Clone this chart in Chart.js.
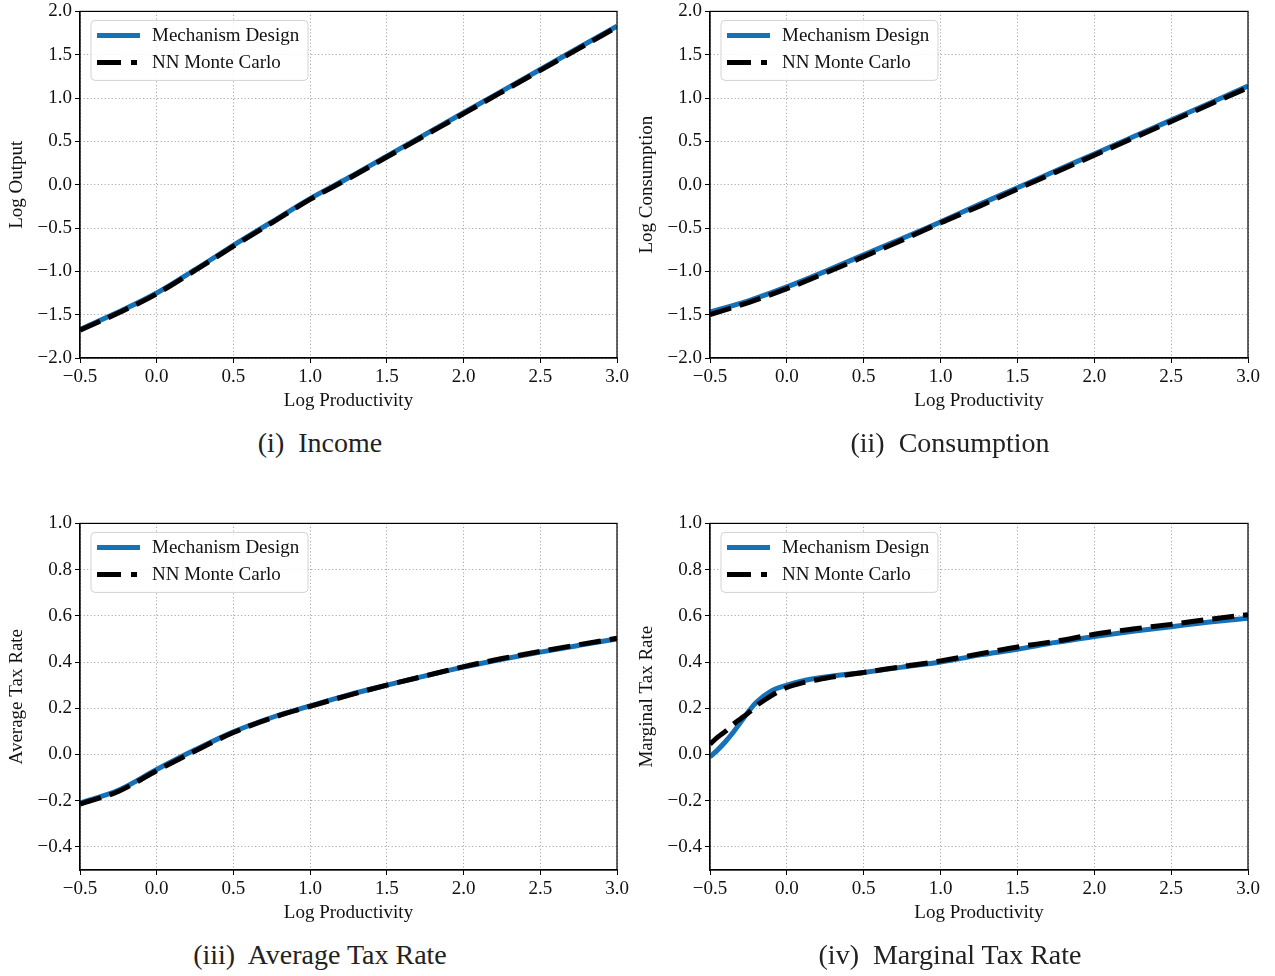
<!DOCTYPE html>
<html>
<head>
<meta charset="utf-8">
<script src="https://cdn.jsdelivr.net/npm/chart.js@4.4.1/dist/chart.umd.min.js"></script>
<style>
  body { margin: 0; background: #fff; }
  #wrap { position: relative; width: 1275px; height: 976px; overflow: hidden; }
  canvas { position: absolute; }
  .cap { position: absolute; width: 600px; text-align: center; font-family: "Liberation Serif", serif; font-size: 28px; color: #222; }
</style>
</head>
<body>
<div id="wrap">
  <canvas id="c_income" width="640" height="423" style="left:0;top:-3px"></canvas>
  <canvas id="c_cons" width="645" height="423" style="left:630px;top:-3px"></canvas>
  <canvas id="c_atr" width="640" height="423" style="left:0;top:509px"></canvas>
  <canvas id="c_mtr" width="645" height="423" style="left:630px;top:509px"></canvas>
  <div class="cap" style="left:20px;top:427px">(i)&nbsp; Income</div>
  <div class="cap" style="left:650px;top:427px">(ii)&nbsp; Consumption</div>
  <div class="cap" style="left:20px;top:939px">(iii)&nbsp; Average Tax Rate</div>
  <div class="cap" style="left:650px;top:939px">(iv)&nbsp; Marginal Tax Rate</div>
</div>
<script>
// log productivity grid
const xGrid = [-0.5, -0.25, 0.0, 0.25, 0.5, 0.75, 1.0, 1.25, 1.5, 1.75, 2.0, 2.25, 2.5, 2.75, 3.0];
const xGridMtr = [-0.5, -0.45, -0.4, -0.35, -0.3, -0.25, -0.2, -0.1, 0.0, 0.1, 0.25, 0.5, 0.75, 1.0, 1.25, 1.5, 1.75, 2.0, 2.25, 2.5, 2.75, 3.0];

const outputMD = [-1.67, -1.47, -1.25, -0.98, -0.70, -0.43, -0.16, 0.08, 0.33, 0.58, 0.83, 1.08, 1.33, 1.58, 1.83];
const outputNN = [-1.68, -1.48, -1.26, -0.99, -0.71, -0.44, -0.17, 0.07, 0.32, 0.57, 0.82, 1.07, 1.32, 1.57, 1.82];

const consMD = [-1.47, -1.34, -1.18, -1.00, -0.81, -0.62, -0.43, -0.23, -0.035, 0.16, 0.355, 0.55, 0.745, 0.94, 1.14];
const consNN = [-1.50, -1.36, -1.20, -1.02, -0.83, -0.64, -0.44, -0.25, -0.05, 0.145, 0.34, 0.535, 0.73, 0.925, 1.12];

const atrMD = [-0.21, -0.155, -0.065, 0.02, 0.098, 0.16, 0.21, 0.258, 0.30, 0.34, 0.378, 0.412, 0.443, 0.472, 0.50];
const atrNN = [-0.215, -0.16, -0.07, 0.015, 0.095, 0.158, 0.208, 0.256, 0.30, 0.34, 0.38, 0.415, 0.446, 0.475, 0.503];

const mtrMD = [-0.01, 0.02, 0.055, 0.095, 0.14, 0.185, 0.225, 0.275, 0.30, 0.318, 0.335, 0.355, 0.378, 0.40, 0.43, 0.455, 0.485, 0.51, 0.533, 0.553, 0.573, 0.59];
const mtrNN = [0.045, 0.075, 0.10, 0.13, 0.155, 0.18, 0.21, 0.255, 0.29, 0.31, 0.33, 0.355, 0.38, 0.405, 0.435, 0.465, 0.49, 0.52, 0.543, 0.563, 0.585, 0.605];

const xTicks = [-0.5, 0.0, 0.5, 1.0, 1.5, 2.0, 2.5, 3.0];
const yTicksLog = [-2.0, -1.5, -1.0, -0.5, 0.0, 0.5, 1.0, 1.5, 2.0];
const yTicksRate = [-0.4, -0.2, 0.0, 0.2, 0.4, 0.6, 0.8, 1.0];

const seriesNames = ['Mechanism Design', 'NN Monte Carlo'];
const blue = '#1571b8';
const FONT = 'Liberation Serif';

function fmt(v) {
    return v.toFixed(1).replace('-', '\u2212');
}

const frameAndLegend = {
    id: 'frameAndLegend',
    afterDraw(chart) {
        const ctx = chart.ctx;
        const a = chart.chartArea;
        ctx.save();
        ctx.strokeStyle = '#000';
        ctx.lineWidth = 1.2;
        ctx.setLineDash([]);
        ctx.strokeRect(a.left, a.top, a.right - a.left, a.bottom - a.top);

        // legend box
        const lx = a.left + 11, ly = a.top + 9, lw = 217, lh = 60;
        ctx.beginPath();
        ctx.roundRect(lx, ly, lw, lh, 4);
        ctx.fillStyle = 'rgba(255,255,255,0.85)';
        ctx.fill();
        ctx.strokeStyle = '#d3d3d3';
        ctx.lineWidth = 1;
        ctx.stroke();

        chart.data.datasets.forEach((ds, i) => {
            const y = ly + 15 + i * 27;
            ctx.beginPath();
            ctx.strokeStyle = ds.borderColor;
            ctx.lineWidth = ds.borderWidth;
            ctx.setLineDash(ds.borderDash ? [24, 10] : []);
            ctx.moveTo(lx + 6, y);
            ctx.lineTo(lx + (ds.borderDash ? 46 : 49), y);
            ctx.stroke();
            ctx.setLineDash([]);
            ctx.fillStyle = '#111';
            ctx.font = '19px ' + FONT;
            ctx.textBaseline = 'middle';
            ctx.fillText(ds.label, lx + 61, y + 1);
        });
        ctx.restore();
    }
};

function axisGrid() {
    return {
        color: '#9a9a9a', lineWidth: 1,
        tickColor: '#000', tickLength: 5, tickBorderDash: [], tickWidth: 1
    };
}

function makePanel(id, xs, md, nn, yMin, yMax, yTicks, yTitle, rightPad) {
    new Chart(document.getElementById(id), {
        type: 'line',
        data: {
            datasets: [{
                label: seriesNames[0],
                data: xs.map((x, i) => ({x: x, y: md[i]})),
                borderColor: blue,
                borderWidth: 5,
                pointRadius: 0,
                cubicInterpolationMode: 'monotone',
                order: 2
            }, {
                label: seriesNames[1],
                data: xs.map((x, i) => ({x: x, y: nn[i]})),
                borderColor: '#000',
                borderWidth: 5,
                borderDash: [22, 9],
                pointRadius: 0,
                cubicInterpolationMode: 'monotone',
                order: 1
            }]
        },
        options: {
            responsive: false,
            animation: false,
            layout: { padding: { top: 11, right: rightPad, left: 0, bottom: 8 } },
            plugins: { legend: { display: false }, tooltip: { enabled: false } },
            scales: {
                x: {
                    type: 'linear',
                    min: -0.5,
                    max: 3.0,
                    afterBuildTicks: (s) => { s.ticks = xTicks.map(v => ({value: v})); },
                    afterFit: (s) => { s.height = 54; },
                    ticks: {
                        color: '#111', padding: 3,
                        font: { family: FONT, size: 19 },
                        callback: (v) => fmt(v)
                    },
                    grid: axisGrid(),
                    // in v4 the grid line dash lives under border
                    border: { color: '#000', width: 1.2, dash: [1, 2.5] },
                    title: {
                        display: true, text: 'Log Productivity', color: '#111',
                        font: { family: FONT, size: 19 }, padding: { top: 0, bottom: 0 }
                    }
                },
                y: {
                    min: yMin,
                    max: yMax,
                    afterBuildTicks: (s) => { s.ticks = yTicks.map(v => ({value: v})); },
                    afterFit: (s) => { s.width = 80; },
                    ticks: {
                        color: '#111', padding: 3,
                        font: { family: FONT, size: 19 },
                        callback: (v) => fmt(v)
                    },
                    grid: axisGrid(),
                    border: { color: '#000', width: 1.2, dash: [1, 2.5] },
                    title: {
                        display: true, text: yTitle, color: '#111',
                        font: { family: FONT, size: 19 }, padding: { top: 6, bottom: 0 }
                    }
                }
            }
        },
        plugins: [frameAndLegend]
    });
}

makePanel('c_income', xGrid, outputMD, outputNN, -2.0, 2.0, yTicksLog, 'Log Output', 23);
makePanel('c_cons', xGrid, consMD, consNN, -2.0, 2.0, yTicksLog, 'Log Consumption', 27);
makePanel('c_atr', xGrid, atrMD, atrNN, -0.5, 1.0, yTicksRate, 'Average Tax Rate', 23);
makePanel('c_mtr', xGridMtr, mtrMD, mtrNN, -0.5, 1.0, yTicksRate, 'Marginal Tax Rate', 27);
</script>
</body>
</html>
